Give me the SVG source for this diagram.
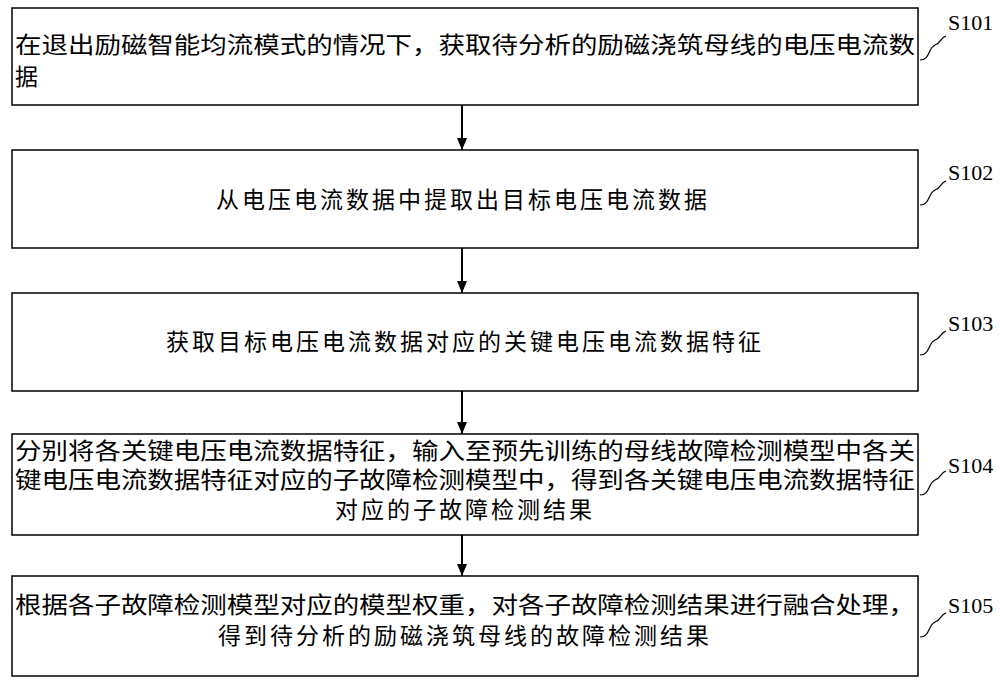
<svg xmlns="http://www.w3.org/2000/svg" width="1000" height="685" viewBox="0 0 1000 685">
<style>
.b{fill:#fff;stroke:#000;stroke-width:1.5}
.t{font-family:"Noto Sans CJK SC","Noto Sans",sans-serif;font-size:23px;fill:#000}
.c{text-anchor:middle;letter-spacing:3px}
.l{font-family:"Liberation Serif",serif;font-size:22px;fill:#000}
.s{fill:none;stroke:#000;stroke-width:1.2}
</style>
<defs><marker id="a" markerWidth="12" markerHeight="10" refX="12" refY="5" orient="auto" markerUnits="userSpaceOnUse" viewBox="0 0 12 10"><path d="M0,0 L12,5 L0,10 Z" fill="#000"/></marker></defs>
<rect width="1000" height="685" fill="#fff"/>
<g id="n1"><rect class="b" x="12" y="8" width="906" height="97"/>
<text class="t" x="15" y="53" textLength="900" lengthAdjust="spacingAndGlyphs">在退出励磁智能均流模式的情况下，获取待分析的励磁浇筑母线的电压电流数</text>
<text class="t" x="15" y="85">据</text></g>
<g id="n2"><rect class="b" x="12" y="150" width="906" height="98"/>
<text class="t c" x="463" y="208">从电压电流数据中提取出目标电压电流数据</text></g>
<g id="n3"><rect class="b" x="12" y="293" width="906" height="98"/>
<text class="t c" x="465" y="350">获取目标电压电流数据对应的关键电压电流数据特征</text></g>
<g id="n4"><rect class="b" x="12" y="434" width="906" height="101"/>
<text class="t" x="15" y="459" textLength="900" lengthAdjust="spacingAndGlyphs">分别将各关键电压电流数据特征，输入至预先训练的母线故障检测模型中各关</text>
<text class="t" x="15" y="488" textLength="900" lengthAdjust="spacingAndGlyphs">键电压电流数据特征对应的子故障检测模型中，得到各关键电压电流数据特征</text>
<text class="t c" x="465" y="518">对应的子故障检测结果</text></g>
<g id="n5"><rect class="b" x="12" y="576" width="906" height="100"/>
<text class="t" x="15" y="613" textLength="900" lengthAdjust="spacingAndGlyphs">根据各子故障检测模型对应的模型权重，对各子故障检测结果进行融合处理，</text>
<text class="t c" x="465" y="644">得到待分析的励磁浇筑母线的故障检测结果</text></g>
<g id="labels">
<text class="l" x="948" y="30">S101</text>
<text class="l" x="948" y="180">S102</text>
<text class="l" x="948" y="331">S103</text>
<text class="l" x="948" y="473">S104</text>
<text class="l" x="948" y="613">S105</text>
</g>
<g id="connectors">
<path class="s" d="M920,60 C930,60 928,48 935,45 C942,42 940,38 946,36"/>
<path class="s" d="M920,205 C930,205 928,193 935,190 C942,187 940,183 946,181"/>
<path class="s" d="M920,355 C930,355 928,343 935,340 C942,337 940,333 946,331"/>
<path class="s" d="M920,495 C930,495 928,483 935,480 C942,477 940,473 946,471"/>
<path class="s" d="M920,637 C930,637 928,625 935,622 C942,619 940,615 946,613"/>
<g stroke="#000" stroke-width="2" marker-end="url(#a)">
<line x1="462" y1="105" x2="462" y2="150"/>
<line x1="462" y1="248" x2="462" y2="293"/>
<line x1="462" y1="391" x2="462" y2="434"/>
<line x1="462" y1="535" x2="462" y2="576"/>
</g></g>
</svg>
